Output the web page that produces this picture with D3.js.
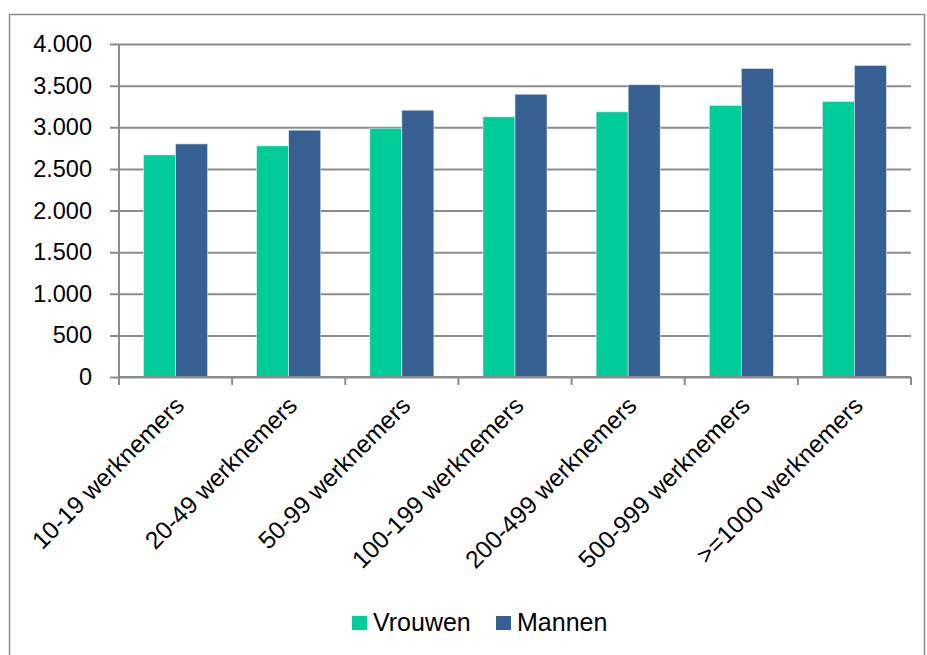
<!DOCTYPE html>
<html>
<head>
<meta charset="utf-8">
<script src="https://cdn.jsdelivr.net/npm/d3@7"></script>
<style>
  body { margin: 0; background: #fff; }
  svg { display: block; font-family: "Liberation Sans", Arial, sans-serif; }
</style>
</head>
<body>
<div id="showBox"></div>
<script>
// data
const categories = ["10-19 werknemers", "20-49 werknemers", "50-99 werknemers",
    "100-199 werknemers", "200-499 werknemers", "500-999 werknemers", ">=1000 werknemers"]
const seriesNames = ["Vrouwen", "Mannen"]
const vrouwen = [2668, 2776, 2989, 3125, 3185, 3261, 3309]
const mannen = [2800, 2965, 3205, 3397, 3510, 3706, 3742]
const yTicks = [0, 500, 1000, 1500, 2000, 2500, 3000, 3500, 4000]
const colors = ["#00CC99", "#376092"]

const width = 927, height = 655
const margin = {top: 44, right: 16, bottom: 278, left: 119}

const svg = d3.select("#showBox").append("svg")
    .attr("width", width)
    .attr("height", height)

// chart frame
svg.append("rect")
    .attr("x", 9.5).attr("y", 14.5)
    .attr("width", 915).attr("height", 660)
    .attr("fill", "none")
    .attr("stroke", "#8c8c8c")
    .attr("stroke-width", 1.5)

const x = d3.scaleBand()
    .domain(categories)
    .range([margin.left, width - margin.right])
    .paddingInner(0.434)
    .paddingOuter(0.217)

const xSub = d3.scaleBand()
    .domain(seriesNames)
    .range([0, x.bandwidth()])

const y = d3.scaleLinear()
    .domain([0, 4000])
    .range([height - margin.bottom, margin.top])

const fmt = v => d3.format(",")(v).replace(/,/g, ".")

// gridlines + y axis
svg.append("g")
    .attr("transform", `translate(${margin.left},0)`)
    .call(d3.axisLeft(y).tickValues(yTicks).tickFormat(fmt)
        .tickSize(-(width - margin.right - margin.left)).tickSizeOuter(0))
    .call(g => g.select(".domain").remove())
    .call(g => g.selectAll(".tick line")
        .attr("stroke", "#8c8c8c").attr("stroke-width", 2)
        .attr("x1", -9))
    .call(g => g.selectAll(".tick text")
        .attr("x", -27)
        .attr("font-size", 23.5)
        .attr("font-family", "Liberation Sans, Arial, sans-serif")
        .attr("fill", "#000"))

svg.append("line")
    .attr("x1", margin.left).attr("x2", margin.left)
    .attr("y1", margin.top).attr("y2", y(0))
    .attr("stroke", "#8c8c8c").attr("stroke-width", 2)

// bars
const rows = categories.map((c, i) => ({cat: c, values: [vrouwen[i], mannen[i]]}))

svg.append("g")
    .selectAll("g")
    .data(rows)
    .join("g")
    .attr("transform", d => `translate(${x(d.cat)},0)`)
    .selectAll("rect")
    .data(d => d.values.map((v, j) => ({name: seriesNames[j], value: v, j})))
    .join("rect")
    .attr("x", d => xSub(d.name))
    .attr("y", d => y(d.value))
    .attr("width", xSub.bandwidth())
    .attr("height", d => y(0) - y(d.value))
    .attr("fill", d => colors[d.j])
    .attr("stroke", "#dfe8f2")
    .attr("stroke-width", 0.6)

// x axis line and ticks between categories
const step = x.step()
const xAxis = svg.append("g")
xAxis.append("line")
    .attr("x1", margin.left).attr("x2", width - margin.right)
    .attr("y1", y(0)).attr("y2", y(0))
    .attr("stroke", "#8c8c8c").attr("stroke-width", 2)
xAxis.selectAll("line.tk")
    .data(d3.range(categories.length + 1))
    .join("line")
    .attr("class", "tk")
    .attr("x1", i => margin.left + i * step)
    .attr("x2", i => margin.left + i * step)
    .attr("y1", y(0)).attr("y2", y(0) + 8)
    .attr("stroke", "#8c8c8c").attr("stroke-width", 2)

xAxis.selectAll("text")
    .data(categories)
    .join("text")
    .attr("transform", d => `translate(${x(d) + x.bandwidth() / 2 + 4},${y(0) + 24}) rotate(-45)`)
    .attr("text-anchor", "end")
    .attr("dy", "0.35em")
    .attr("font-size", 24.5)
    .attr("fill", "#000")
    .text(d => d)

// legend
const legend = svg.append("g")
const legendX = [352, 496]
seriesNames.forEach((n, i) => {
    legend.append("rect")
        .attr("x", legendX[i]).attr("y", 616)
        .attr("width", 15).attr("height", 14)
        .attr("fill", colors[i])
    legend.append("text")
        .attr("x", legendX[i] + 21).attr("y", 631)
        .attr("font-size", 25)
        .attr("fill", "#000")
        .text(n)
})
</script>
</body>
</html>
